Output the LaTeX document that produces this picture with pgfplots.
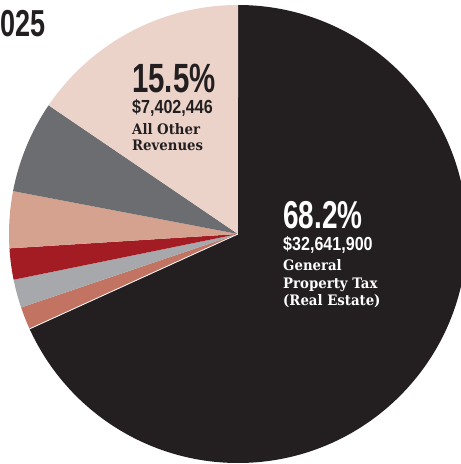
\documentclass[border=0pt]{standalone}
\usepackage{pgfplots}
\pgfplotsset{compat=1.18}
\usepackage{fontspec}
\setmainfont{DejaVu Serif}
\newfontfamily\lab[FakeStretch=0.92]{DejaVu Serif}
\newfontfamily\condA[FakeStretch=0.72]{Liberation Sans}
\newfontfamily\condB[FakeStretch=0.85]{Liberation Sans}

\definecolor{pblack}{HTML}{231F20}
\definecolor{psalmon}{HTML}{C27361}
\definecolor{plgray}{HTML}{A6A8AB}
\definecolor{pred}{HTML}{A31C24}
\definecolor{plsalmon}{HTML}{D6A290}
\definecolor{pdgray}{HTML}{6C6D70}
\definecolor{ppink}{HTML}{EBD3C9}

\begin{document}
\begin{tikzpicture}
\useasboundingbox (-238bp,-230bp) rectangle (223bp,234bp);
\clip (-238bp,-230bp) rectangle (223bp,234bp);
\begin{axis}[
    at={(0,0)}, anchor=center,
    scale only axis,
    width=458bp, height=458bp,
    xmin=-1, xmax=1, ymin=-1, ymax=1,
    hide axis, clip=false,
]
\pgfplotsextra{
  \gdef\cum{0}
  % share (%) / colour, clockwise from 12 o'clock
  \foreach \v/\c in {68.2/pblack, 1.6/psalmon, 2.0/plgray, 2.2/pred,
                     4.0/plsalmon, 6.5/pdgray, 15.5/ppink} {
    \pgfmathsetmacro\a{90-3.6*\cum}
    \pgfmathsetmacro\b{90-3.6*(\cum+\v)}
    \fill[\c] (axis cs:0,0) -- (axis cs:{cos(\a)},{sin(\a)})
      arc[start angle=\a, end angle=\b, radius=229bp] -- cycle;
    \pgfmathsetmacro\n{\cum+\v}
    \xdef\cum{\n}
  }
  \draw[white, line width=0.8bp] (axis cs:0,0) -- (axis cs:{cos(90-3.6*68.2)},{sin(90-3.6*68.2)});
}
\end{axis}

% labels
\tikzset{big/.style={anchor=base west, inner sep=0, text depth=0pt}}
\node[big, text=white, font=\condA\bfseries\fontsize{39}{39}\selectfont] at (45bp,6bp) {68.2\%};
\node[big, text=white, font=\condB\bfseries\fontsize{19}{19}\selectfont] at (45bp,-16bp) {\$32,641,900};
\node[big, text=white, font=\lab\bfseries\fontsize{14.5}{17}\selectfont] at (45bp,-36.5bp) {General};
\node[big, text=white, font=\lab\bfseries\fontsize{14.5}{17}\selectfont] at (45bp,-54bp) {Property Tax};
\node[big, text=white, font=\lab\bfseries\fontsize{14.5}{17}\selectfont] at (45bp,-71.5bp) {(Real Estate)};

\node[big, text=pblack, font=\condA\bfseries\fontsize{41}{41}\selectfont] at (-106bp,141bp) {15.5\%};
\node[big, text=pblack, font=\condB\bfseries\fontsize{19}{19}\selectfont] at (-106bp,120bp) {\$7,402,446};
\node[big, text=pblack, font=\lab\bfseries\fontsize{14.5}{17}\selectfont] at (-106bp,99.7bp) {All Other};
\node[big, text=pblack, font=\lab\bfseries\fontsize{14.5}{17}\selectfont] at (-106bp,83bp) {Revenues};

\node[big, text=pblack, font=\condA\bfseries\fontsize{37.7}{37.7}\selectfont] at (-238bp,197bp) {025};
\end{tikzpicture}
\end{document}
